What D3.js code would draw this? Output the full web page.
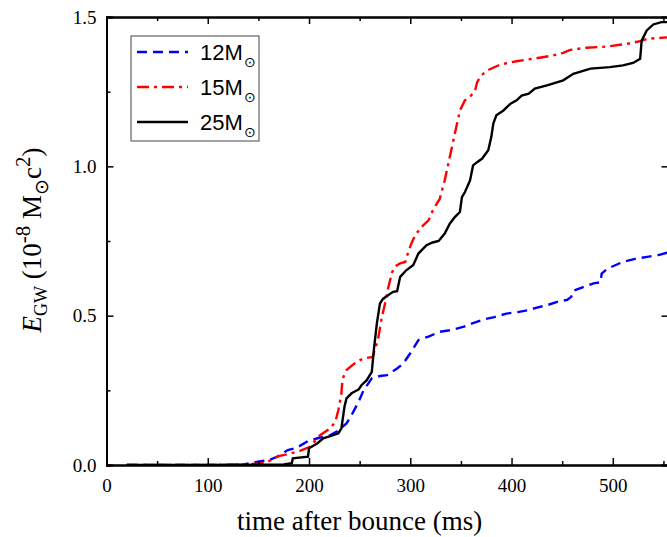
<!DOCTYPE html>
<html>
<head>
<meta charset="utf-8">
<script src="https://cdn.jsdelivr.net/npm/d3@7"></script>
<style>
  body { margin: 0; background: #fff; }
  svg { display: block; }
  .tick-label { font-family: "Liberation Serif", "Times New Roman", serif; font-size: 19px; fill: #000; }
  .axis-title { font-family: "Liberation Serif", "Times New Roman", serif; font-size: 27px; fill: #000; }
  .legend-label { font-family: "Liberation Sans", Arial, sans-serif; font-size: 22px; fill: #000; }
</style>
</head>
<body>
<div id="chart"></div>
<script>
// time after bounce (ms)
const t12 = [20, 100, 133, 148, 161, 170, 179, 188, 199, 211, 221, 227, 237, 242, 249, 254, 262, 270, 277, 287, 293, 300, 308, 318, 329, 341, 353, 362, 372, 383, 395, 406, 416, 425, 435, 445, 455, 459, 461, 470, 481, 488, 489, 495, 510, 522, 534, 545, 555];
const e12 = [0, 0, 0, 0.01, 0.017, 0.03, 0.05, 0.058, 0.08, 0.092, 0.1, 0.111, 0.139, 0.167, 0.212, 0.251, 0.29, 0.298, 0.301, 0.323, 0.34, 0.374, 0.418, 0.43, 0.446, 0.452, 0.463, 0.475, 0.487, 0.495, 0.507, 0.512, 0.518, 0.527, 0.535, 0.546, 0.553, 0.563, 0.583, 0.595, 0.608, 0.612, 0.641, 0.658, 0.68, 0.69, 0.697, 0.703, 0.712];

const t15 = [20, 100, 140, 158, 165, 170, 180, 191, 201, 211, 221, 226, 229, 232, 233, 237, 247, 254, 263, 265, 268, 272, 275, 278, 282, 285, 290, 295, 298, 301, 305, 311, 318, 323, 329, 334, 339, 344, 349, 354, 360, 364, 366, 370, 376, 389, 405, 421, 441, 451, 458, 474, 494, 514, 527, 534, 555];
const e15 = [0, 0, 0.002, 0.008, 0.022, 0.03, 0.037, 0.047, 0.061, 0.1, 0.123, 0.145, 0.184, 0.24, 0.287, 0.318, 0.346, 0.357, 0.362, 0.385, 0.418, 0.496, 0.54, 0.59, 0.645, 0.665, 0.675, 0.68, 0.713, 0.741, 0.77, 0.797, 0.819, 0.858, 0.89, 0.953, 1.031, 1.109, 1.187, 1.221, 1.237, 1.254, 1.282, 1.304, 1.321, 1.341, 1.352, 1.36, 1.371, 1.38, 1.39, 1.397, 1.401, 1.41, 1.419, 1.427, 1.432];

const t25 = [20, 100, 150, 175, 183, 184, 199, 200, 208, 214, 221, 229, 232, 235, 237, 242, 249, 252, 257, 262, 264, 267, 270, 273, 277, 283, 287, 290, 296, 303, 308, 316, 322, 328, 334, 339, 344, 349, 351, 354, 359, 362, 366, 371, 377, 380, 382, 385, 392, 399, 405, 410, 417, 423, 435, 451, 461, 478, 497, 510, 520, 527, 528.5, 533.5, 540, 548, 555];
const e25 = [0, 0, 0.001, 0.002, 0.006, 0.022, 0.028, 0.056, 0.072, 0.089, 0.097, 0.106, 0.123, 0.195, 0.223, 0.24, 0.253, 0.268, 0.284, 0.312, 0.385, 0.474, 0.54, 0.556, 0.566, 0.58, 0.582, 0.63, 0.652, 0.67, 0.708, 0.736, 0.745, 0.75, 0.775, 0.808, 0.83, 0.847, 0.897, 0.914, 0.953, 1.003, 1.014, 1.026, 1.054, 1.098, 1.143, 1.171, 1.187, 1.21, 1.221, 1.237, 1.243, 1.26, 1.271, 1.288, 1.31, 1.327, 1.332, 1.338, 1.346, 1.36, 1.421, 1.455, 1.475, 1.483, 1.483];

const seriesNames = ["12M", "15M", "25M"];
const xTicks = [0, 100, 200, 300, 400, 500];
const yTicks = [0, 0.5, 1.0, 1.5];

const drawChart = () => {
  const chartSize = { width: 667, height: 537 };
  const margin = { left: 106.5, right: -1.5, top: 17, bottom: 72 };
  const width = chartSize.width - margin.left - margin.right;
  const height = chartSize.height - margin.top - margin.bottom;

  const x = d3.scaleLinear().domain([0, 555]).range([0, width]);
  const y = d3.scaleLinear().domain([0, 1.5]).range([height, 0]);

  const svg = d3.select("#chart")
    .append("svg")
    .attr("width", chartSize.width)
    .attr("height", chartSize.height);

  const g = svg.append("g")
    .attr("transform", `translate(${margin.left},${margin.top})`);

  const series = [
    { name: "12M", t: t12, e: e12, color: "#0000ff", dash: "10,6" },
    { name: "15M", t: t15, e: e15, color: "#ff0000", dash: "12,5,3,5" },
    { name: "25M", t: t25, e: e25, color: "#000000", dash: null }
  ];

  const line = d3.line().x(d => x(d[0])).y(d => y(d[1]));

  g.append("clipPath").attr("id", "plot-clip")
    .append("rect").attr("x", 0).attr("y", -3).attr("width", width).attr("height", height + 3);

  g.append("g").attr("clip-path", "url(#plot-clip)")
    .selectAll("path")
    .data(series)
    .enter()
    .append("path")
    .attr("d", s => line(s.t.map((t, i) => [t, s.e[i]])))
    .attr("fill", "none")
    .attr("stroke", s => s.color)
    .attr("stroke-width", 2.4)
    .attr("stroke-dasharray", s => s.dash);

  // axes, ticks pointing inwards
  const xMinor = d3.range(50, 560, 100);
  const yMinor = [0.25, 0.75, 1.25];
  const bottom = d3.axisBottom(x).tickValues(xTicks).tickSize(-7).tickPadding(14).tickFormat(d3.format("d"));
  const top = d3.axisTop(x).tickValues(xTicks).tickSize(-7).tickFormat("");
  const left = d3.axisLeft(y).tickValues(yTicks).tickSize(-7).tickPadding(10).tickFormat(d3.format(".1f"));

  g.append("g").attr("class", "x-axis").attr("transform", `translate(0,${height})`).call(bottom);
  g.append("g").attr("class", "x-axis-top").call(top);
  g.append("g").attr("class", "y-axis").call(left);
  g.append("g").attr("transform", `translate(0,${height})`)
    .call(d3.axisBottom(x).tickValues(xMinor).tickSize(-4).tickFormat(""));
  g.append("g").call(d3.axisTop(x).tickValues(xMinor).tickSize(-4).tickFormat(""));
  g.append("g").call(d3.axisLeft(y).tickValues(yMinor).tickSize(-4).tickFormat(""));
  g.append("g").attr("transform", `translate(${width},0)`)
    .call(d3.axisRight(y).tickValues(yTicks).tickSize(-7).tickFormat(""));

  g.selectAll(".domain").attr("stroke", "#000").attr("stroke-width", 1.8);
  g.selectAll(".tick line").attr("stroke", "#000").attr("stroke-width", 1.5);
  g.selectAll(".x-axis text, .y-axis text")
    .attr("class", "tick-label")
    .attr("font-family", null).attr("font-size", null);
  g.selectAll(".x-axis text").attr("dy", "0.71em");

  // axis titles
  g.append("text")
    .attr("class", "axis-title")
    .attr("x", x(250))
    .attr("y", height + 65)
    .attr("text-anchor", "middle")
    .text("time after bounce (ms)");

  const yTitle = g.append("text")
    .attr("class", "axis-title")
    .attr("transform", `translate(-66,${240 - margin.top}) rotate(-90)`)
    .attr("text-anchor", "middle");
  yTitle.append("tspan").attr("font-style", "italic").text("E");
  yTitle.append("tspan").attr("font-size", "18px").attr("dy", 6).text("GW");
  yTitle.append("tspan").attr("dy", -6).text(" (10");
  yTitle.append("tspan").attr("font-size", "21px").attr("dy", -11).text("-8");
  yTitle.append("tspan").attr("dy", 11).text(" M");
  yTitle.append("tspan").attr("font-size", "19px").attr("dy", 7).text("\u2299");
  yTitle.append("tspan").attr("dy", -7).text("c");
  yTitle.append("tspan").attr("font-size", "21px").attr("dy", -11).text("2");
  yTitle.append("tspan").attr("dy", 11).text(")");

  // legend
  const legend = svg.append("g").attr("transform", "translate(131,36)");
  legend.append("rect")
    .attr("width", 128).attr("height", 105)
    .attr("fill", "#fff").attr("stroke", "#444").attr("stroke-width", 1);
  const items = legend.selectAll("g.item")
    .data(series)
    .enter()
    .append("g")
    .attr("class", "item")
    .attr("transform", (s, i) => `translate(0,${16 + i * 35})`);
  items.append("line")
    .attr("x1", 6).attr("x2", 57)
    .attr("stroke", s => s.color)
    .attr("stroke-width", 2.4)
    .attr("stroke-dasharray", s => s.dash);
  const lt = items.append("text")
    .attr("class", "legend-label")
    .attr("x", 69)
    .attr("y", 8);
  lt.append("tspan").text((s, i) => seriesNames[i]);
  lt.append("tspan").attr("font-size", "14px").attr("dy", 7).attr("dx", 1).text("\u2299");
};

window.onload = drawChart;
</script>
</body>
</html>
